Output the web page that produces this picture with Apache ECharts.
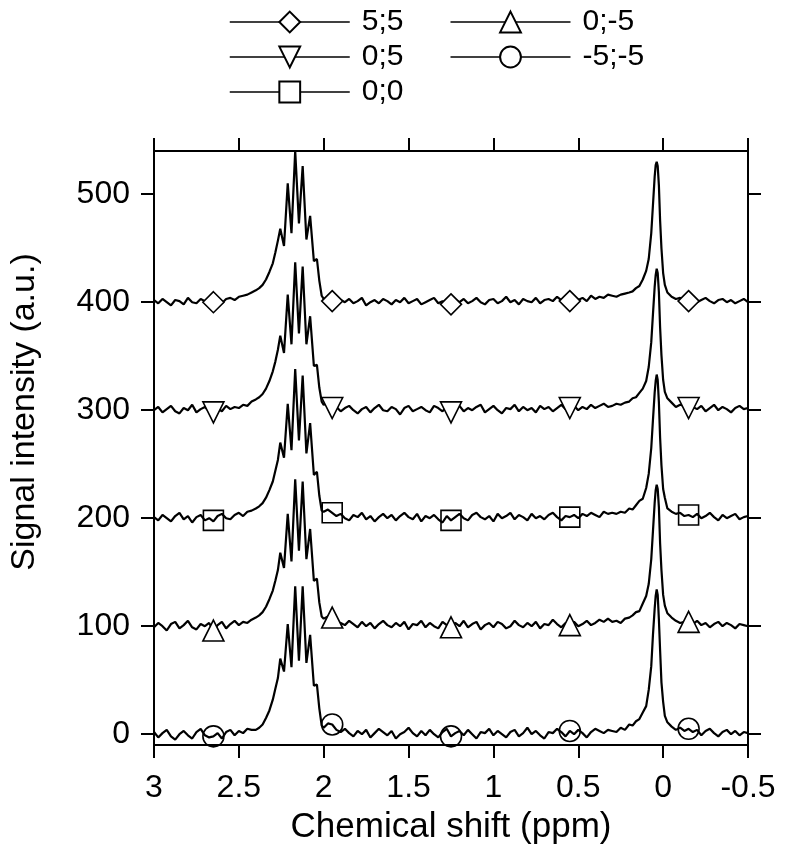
<!DOCTYPE html>
<html>
<head>
<meta charset="utf-8">
<title>Chemical shift</title>
<script src="https://cdn.jsdelivr.net/npm/echarts/dist/echarts.min.js"></script>
<style>
  html, body { margin: 0; padding: 0; background: #fff; }
  #chart { width: 785px; height: 859px; }
</style>
</head>
<body>
<div id="chart"></div>
<script>
// chemical shift grid (ppm), shared by all five spectra
var ppm = [
  3.000, 2.975, 2.950, 2.925, 2.900, 2.875, 2.850, 2.825, 2.800, 2.775,
  2.750, 2.725, 2.700, 2.675, 2.650, 2.625, 2.600, 2.575, 2.550, 2.525,
  2.500, 2.475, 2.450, 2.425,
  2.400, 2.380, 2.360, 2.340, 2.320, 2.300, 2.285,
  2.270, 2.256, 2.234, 2.212, 2.190, 2.168, 2.146, 2.124, 2.102, 2.080, 2.058, 2.040, 2.026, 2.012,
  2.000, 1.975, 1.950, 1.925, 1.900, 1.875, 1.850, 1.825, 1.800, 1.775,
  1.750, 1.725, 1.700, 1.675, 1.650, 1.625, 1.600, 1.575, 1.550, 1.525,
  1.500, 1.475, 1.450, 1.425, 1.400, 1.375, 1.350, 1.325, 1.300, 1.275,
  1.250, 1.225, 1.200, 1.175, 1.150, 1.125, 1.100, 1.075, 1.050, 1.025,
  1.000, 0.975, 0.950, 0.925, 0.900, 0.875, 0.850, 0.825, 0.800, 0.775,
  0.750, 0.725, 0.700, 0.675, 0.650, 0.625, 0.600, 0.575, 0.550, 0.525,
  0.500, 0.475, 0.450, 0.425, 0.400, 0.375, 0.350, 0.325,
  0.300, 0.275, 0.250, 0.225, 0.200, 0.180, 0.160, 0.140, 0.120, 0.100,
  0.085, 0.070, 0.060, 0.050, 0.044, 0.038, 0.032, 0.025, 0.018, 0.010,
  0.000, -0.010, -0.025,
  -0.050, -0.075, -0.100, -0.125, -0.150, -0.175, -0.200, -0.225, -0.250, -0.275,
  -0.300, -0.325, -0.350, -0.375, -0.400, -0.425, -0.450, -0.475, -0.500
]

// signal intensity (a.u.), one array per spectrum
var int55 = [
  402, 399, 403, 400, 397, 402, 401, 398, 404, 400, 399, 403, 401, 398, 400, 402, 399, 403, 404, 402, 405, 406, 407, 409,
  411, 413, 416, 421, 428, 436, 446,
  457, 468, 452, 510, 464, 540, 473, 526, 458, 480, 438, 440, 420, 406,
  403, 404, 401, 398, 402, 400, 403, 399, 401, 404,
  397, 400, 402, 399, 403, 401, 398, 402, 400, 404,
  399, 401, 403, 398, 400, 402, 404, 399, 401, 397,
  398, 402, 400, 403, 399, 401, 404, 400, 398, 402,
  403, 399, 401, 405, 400, 402, 398, 403, 401, 400,
  404, 399, 402, 403, 401, 405, 402, 400, 401, 403,
  402, 404, 401, 406, 403, 405, 404, 407,
  406, 405, 407, 408, 409, 410, 413, 415, 421, 429, 440, 464, 490, 516, 527, 530, 526, 508, 476, 450, 427, 416, 409,
  405, 403, 404, 402, 401, 403, 400, 402, 404, 401, 399, 402, 403, 400, 402, 399, 401, 403, 400
]
var int05 = [
  300, 303, 298, 301, 304, 299, 297, 302, 300, 305, 298, 301, 303, 299, 298, 302, 299, 304, 301, 303, 302, 305, 304, 308,
  310, 312, 315, 320, 327, 336, 345,
  356, 369, 353, 407, 361, 437, 371, 433, 361, 387, 341, 342, 321, 308,
  305, 307, 302, 303, 299, 302, 304, 300, 297, 301,
  303, 298, 302, 305, 300, 299, 303, 301, 296, 302,
  304, 299, 301, 303, 300, 298, 304, 302, 299, 303,
  298, 301, 304, 299, 302, 300, 303, 305, 298, 301,
  304, 300, 297, 302, 301, 305, 299, 303, 300, 302,
  298, 304, 301, 303, 299, 302, 305, 301, 302, 304,
  300, 303, 301, 305, 302, 304, 306, 303,
  304, 306, 305, 307, 308, 311, 312, 316, 320, 327, 340, 363, 389, 414, 425, 431, 427, 409, 377, 351, 328, 317, 311,
  307, 303, 305, 304, 302, 303, 301, 304, 299, 302, 305, 300, 303, 301, 298, 302, 304, 301, 302
]
var int00 = [
  201, 198, 203, 200, 197, 202, 205, 199, 202, 196, 201, 203, 198, 200, 197, 202, 204, 200, 199, 203, 205, 202, 206, 207,
  209, 211, 214, 219, 226, 234, 244,
  254, 270, 256, 306, 263, 338, 272, 332, 260, 288, 240, 243, 221, 207,
  206, 208, 205, 202, 204, 200, 198, 203, 201, 205,
  199, 202, 197, 201, 204, 200, 203, 198, 202, 205,
  201, 199, 204, 197, 202, 200, 203, 199, 196, 202,
  198, 201, 204, 200, 198, 203, 205, 201, 199, 202,
  197, 204, 200, 202, 205, 199, 203, 201, 198, 204,
  200, 202, 199, 203, 205, 201, 198, 202, 201, 203,
  200, 204, 202, 205, 203, 201, 206, 204,
  205, 204, 206, 205, 209, 208, 212, 216, 218, 228, 241, 265, 291, 316, 327, 333, 328, 307, 275, 249, 227, 219, 209,
  206, 204, 205, 202, 203, 201, 204, 200, 202, 205, 201, 198, 203, 200, 202, 204, 199, 201, 202
]
var int0m5 = [
  99, 103, 100, 96, 102, 104, 98, 101, 105, 99, 97, 102, 100, 103, 96, 101, 104, 98, 102, 105, 101, 104, 103, 106,
  108, 110, 113, 118, 125, 133, 142,
  152, 168, 154, 204, 160, 236, 170, 234, 162, 190, 142, 144, 122, 109,
  107, 109, 108, 104, 103, 101, 105, 102, 99, 104,
  100, 103, 98, 102, 105, 101, 99, 103, 100, 104,
  97, 102, 101, 105, 99, 103, 100, 98, 104, 101,
  99, 103, 100, 105, 99, 102, 104, 97, 101, 103,
  99, 104, 102, 98, 100, 105, 101, 99, 103, 100,
  104, 98, 102, 101, 106, 102, 99, 103, 101, 104,
  100, 102, 105, 101, 103, 106, 104, 107,
  104, 105, 103, 107, 108, 110, 113, 114, 121, 128, 139, 162, 188, 214, 226, 231, 227, 210, 177, 152, 129, 119, 112,
  108, 105, 103, 104, 104, 102, 105, 101, 103, 99, 102, 104, 100, 103, 101, 98, 102, 101, 100
]
var intm5m5 = [
  2, -3, 1, 4, -2, -5, 0, 3, -1, -4, 2, 5, -1, -3, -2, 1, -4, 2, 4, -1, 3, 1, 5, 4,
  4, 6, 9, 15, 22, 32, 42,
  52, 70, 58, 102, 62, 137, 68, 137, 66, 92, 45, 46, 24, 8,
  6, 10, 9, 4, 2, 5, 1, -2, 3, 0,
  4, -3, 1, 5, 2, -1, 3, -4, 0, 2,
  6, 1, -2, 3, -1, 4, 0, -3, 2, 5,
  -2, 1, 3, -1, 4, 0, -4, 2, 1, 5,
  -1, 3, 0, -3, 2, 4, -2, 1, 6, 0,
  3, -1, -4, 2, 1, 5, 2, -2, 3, 0,
  4, 1, -3, 2, 5, 3, 1, 4,
  3, 2, 6, 4, 9, 8, 12, 14, 20, 26, 41, 63, 92, 116, 128, 134, 129, 106, 78, 48, 30, 17, 11,
  7, 4, 6, 3, 5, 2, 4, -1, 3, 5, 1, -2, 2, 4, 0, 3, -1, 2, 1
]

// marker positions drawn on each trace
var markerX = [2.65, 1.95, 1.25, 0.55, -0.15]
var mark55 = [400, 401, 398, 401, 401]
var mark05 = [298, 302, 298, 302, 302]
var mark00 = [198, 205, 198, 201, 203]
var mark0m5 = [96, 108, 99, 101, 104]
var markm5m5 = [-2, 9, -2, 3, 5]

var names = ['5;5', '0;5', '0;0', '0;-5', '-5;-5']
var xTicks = [3, 2.5, 2, 1.5, 1, 0.5, 0, -0.5]
var yTicks = [0, 100, 200, 300, 400, 500]

var traces = [int55, int05, int00, int0m5, intm5m5]
var marks = [mark55, mark05, mark00, mark0m5, markm5m5]
// legend symbol / marker symbol / rotation / fill
var shapes = [
  { legend: 'emptyDiamond', mark: 'diamond', rot: 0, fill: '#fff', size: 21 },
  { legend: 'emptyTriangle', mark: 'triangle', rot: 180, fill: '#fff', size: 21 },
  { legend: 'emptyRect', mark: 'rect', rot: 0, fill: 'rgba(0,0,0,0)', size: 20 },
  { legend: 'emptyTriangle', mark: 'triangle', rot: 0, fill: '#fff', size: 21 },
  { legend: 'emptyCircle', mark: 'circle', rot: 0, fill: 'rgba(0,0,0,0)', size: 21 }
]

var myChart = echarts.init(document.getElementById('chart'))

var lineSeries = names.map(function (n, k) {
  return {
    name: n,
    type: 'line',
    data: ppm.map(function (x, i) { return [x, traces[k][i]] }),
    showSymbol: false,
    symbol: shapes[k].legend,
    symbolRotate: shapes[k].rot,
    symbolSize: shapes[k].size,
    color: '#000',
    lineStyle: { color: '#000', width: 2.2 },
    itemStyle: { color: '#000' },
    silent: true,
    z: 2
  }
})
var markSeries = names.map(function (n, k) {
  return {
    name: n,
    type: 'scatter',
    data: markerX.map(function (x, i) { return [x, marks[k][i]] }),
    symbol: shapes[k].mark,
    symbolRotate: shapes[k].rot,
    symbolSize: shapes[k].size,
    itemStyle: { color: shapes[k].fill, borderColor: '#000', borderWidth: 1.6, opacity: 1 },
    silent: true,
    z: 3
  }
})

var axisCommon = {
  axisLine: { onZero: false, lineStyle: { color: '#000', width: 2 } },
  axisTick: { inside: false, length: 13, lineStyle: { color: '#000', width: 2 } },
  splitLine: { show: false }
}

var option = {
  animation: false,
  backgroundColor: '#fff',
  textStyle: { fontFamily: 'Liberation Sans', color: '#000' },
  legend: {
    data: names,
    orient: 'vertical',
    left: 229,
    top: 7,
    height: 102,
    padding: 0,
    itemGap: 5,
    itemWidth: 120,
    itemHeight: 26,
    lineStyle: { width: 1.5 },
    textStyle: { fontSize: 30, color: '#000', lineHeight: 30, width: 83, padding: [0, 0, 0, 7] }
  },
  grid: { left: 152, right: 37, top: 151, bottom: 114 },
  xAxis: [
    Object.assign({}, axisCommon, {
      type: 'value', position: 'bottom', min: -0.5, max: 3, inverse: true,
      name: 'Chemical shift (ppm)', nameLocation: 'middle', nameGap: 65,
      nameTextStyle: { fontSize: 35, color: '#000' },
      axisTick: Object.assign({}, axisCommon.axisTick, { customValues: xTicks }),
      axisLabel: { customValues: xTicks, fontSize: 32, color: '#000', margin: 27 }
    }),
    Object.assign({}, axisCommon, {
      type: 'value', position: 'top', min: -0.5, max: 3, inverse: true,
      axisTick: Object.assign({}, axisCommon.axisTick, { customValues: xTicks }),
      axisLabel: { show: false }
    })
  ],
  yAxis: [
    Object.assign({}, axisCommon, {
      type: 'value', position: 'left', min: -10, max: 540,
      name: 'Signal intensity (a.u.)', nameLocation: 'middle', nameGap: 112,
      nameTextStyle: { fontSize: 34, color: '#000', padding: [0, 0, 0, 72] },
      axisTick: Object.assign({}, axisCommon.axisTick, { customValues: yTicks }),
      axisLabel: { customValues: yTicks, fontSize: 32, color: '#000', margin: 24 }
    }),
    Object.assign({}, axisCommon, {
      type: 'value', position: 'right', min: -10, max: 540,
      axisTick: Object.assign({}, axisCommon.axisTick, { customValues: yTicks }),
      axisLabel: { show: false }
    })
  ],
  series: lineSeries.concat(markSeries)
}

myChart.setOption(option)
</script>
</body>
</html>
